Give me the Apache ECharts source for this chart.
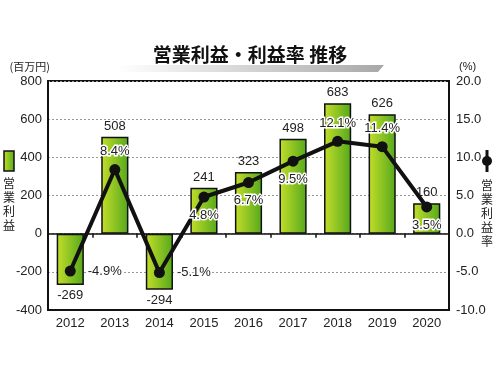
<!DOCTYPE html>
<html>
<head>
<meta charset="utf-8">
<script src="https://cdn.jsdelivr.net/npm/echarts@6/dist/echarts.min.js"></script>
<style>
  html, body { margin: 0; padding: 0; background: #fff; }
  #chart { width: 500px; height: 375px; }
</style>
</head>
<body>
<div id="chart"></div>
<script>
const years = ["2012", "2013", "2014", "2015", "2016", "2017", "2018", "2019", "2020"];
const profit = [-269, 508, -294, 241, 323, 498, 683, 626, 160];
const rate = [-4.9, 8.4, -5.1, 4.8, 6.7, 9.5, 12.1, 11.4, 3.5];
const ratePos = ["right", "top", "right", "bottom", "bottom", "bottom", "top", "top", "bottom"];

const FONT = "'Liberation Sans', 'Noto Sans CJK JP', sans-serif";
const JP = "'Noto Sans CJK JP', sans-serif";
const chart = echarts.init(document.getElementById("chart"));

const barColor = new echarts.graphic.LinearGradient(0, 0, 1, 0, [
  { offset: 0, color: "#c4de2a" },
  { offset: 1, color: "#55a81c" },
]);

const option = {
  animation: false,
  textStyle: { fontFamily: FONT },
  grid: { left: 48, right: 51, top: 81, bottom: 65, show: true, borderColor: "#111", borderWidth: 2 },
  xAxis: [
    {
      type: "category",
      data: years,
      position: "bottom",
      axisLine: { onZero: false, lineStyle: { color: "#111", width: 2 } },
      axisTick: { show: false },
      axisLabel: { color: "#222", fontSize: 13, margin: 7 },
    },
    {
      type: "category",
      data: years,
      axisLine: { onZero: true, lineStyle: { color: "#111", width: 1.5 } },
      axisTick: { show: true, inside: true, length: 4, lineStyle: { color: "#111", width: 1.5 } },
      axisLabel: { show: false },
    },
  ],
  yAxis: [
    {
      type: "value",
      min: -400, max: 800, interval: 200,
      name: "(百万円)",
      nameGap: 9,
      nameTextStyle: { color: "#222", fontSize: 11, fontFamily: JP, align: "right", padding: [0, -2, 0, 0] },
      axisLine: { show: true, lineStyle: { color: "#111", width: 2 } },
      axisTick: { show: false },
      axisLabel: { color: "#222", fontSize: 13, margin: 6 },
      splitLine: { lineStyle: { color: "#999", type: [2, 2] } },
    },
    {
      type: "value",
      min: -10, max: 20, interval: 5,
      name: "(%)",
      nameGap: 9,
      nameTextStyle: { color: "#222", fontSize: 11, align: "left", padding: [0, 0, 0, 10] },
      axisLine: { show: true, lineStyle: { color: "#111", width: 2 } },
      axisTick: { show: false },
      axisLabel: { color: "#222", fontSize: 13, margin: 7, formatter: (v) => v.toFixed(1) },
      splitLine: { show: false },
    },
  ],
  series: [
    {
      name: "営業利益",
      type: "bar",
      data: profit.map((v) => ({
        value: v,
        label: { position: v < 0 ? "bottom" : "top" },
      })),
      barWidth: "61%",
      itemStyle: { color: barColor, borderColor: "#111", borderWidth: 1.5 },
      label: { show: true, color: "#222", fontSize: 13, distance: 4 },
    },
    {
      name: "営業利益率",
      type: "line",
      yAxisIndex: 1,
      data: rate.map((v, i) => ({
        value: v,
        label: { position: ratePos[i], distance: ratePos[i] === "right" ? 12 : 6 },
      })),
      symbol: "circle",
      symbolSize: 11,
      lineStyle: { color: "#111", width: 4 },
      itemStyle: { color: "#111" },
      z: 5,
      label: {
        show: true,
        color: "#222",
        fontSize: 13,
        textBorderColor: "#fff",
        textBorderWidth: 3,
        formatter: (p) => p.value.toFixed(1) + "%",
      },
    },
  ],
  graphic: [
    {
      type: "polygon",
      shape: { points: [[117, 65], [384, 65], [378, 72], [117, 72]] },
      style: {
        fill: new echarts.graphic.LinearGradient(0, 0, 1, 0, [
          { offset: 0, color: "#ffffff" },
          { offset: 1, color: "#a8a8a8" },
        ]),
      },
      z: 0,
    },
    {
      type: "text",
      left: "center",
      top: 45,
      style: { text: "営業利益・利益率 推移", font: "bold 19px " + JP, fill: "#111" },
      z: 10,
    },
    {
      type: "rect",
      shape: { x: 4, y: 151, width: 10, height: 20 },
      style: { fill: barColor, stroke: "#111", lineWidth: 1.5 },
    },
    {
      type: "text",
      left: 3,
      top: 176,
      style: { text: "営\n業\n利\n益", font: "12px " + JP, lineHeight: 14, fill: "#222" },
    },
    {
      type: "line",
      shape: { x1: 487, y1: 150, x2: 487, y2: 172 },
      style: { stroke: "#111", lineWidth: 3 },
    },
    {
      type: "circle",
      shape: { cx: 487, cy: 161, r: 5 },
      style: { fill: "#111" },
    },
    {
      type: "text",
      left: 481,
      top: 178,
      style: { text: "営\n業\n利\n益\n率", font: "12px " + JP, lineHeight: 14, fill: "#222" },
    },
  ],
};

chart.setOption(option);
</script>
</body>
</html>
